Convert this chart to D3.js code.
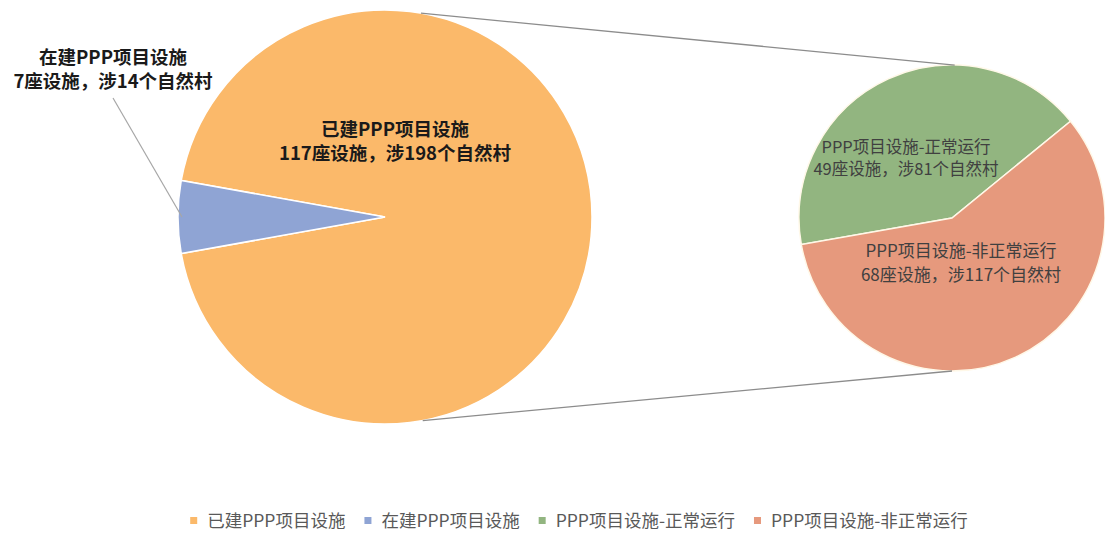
<!DOCTYPE html>
<html><head><meta charset="utf-8">
<script src="https://cdn.jsdelivr.net/npm/d3@7"></script>
<style>
html,body{margin:0;padding:0;background:#fff;}
text{font-family:"Noto Sans CJK SC","Noto Sans",sans-serif;}
</style></head>
<body><svg id="c" width="1105" height="534"></svg>
<script>
// ---- data ----
const mainCategories = ["已建PPP项目设施", "在建PPP项目设施"];
const mainValues = [117, 7];
const mainVillages = [198, 14];
const subCategories = ["PPP项目设施-正常运行", "PPP项目设施-非正常运行"];
const subValues = [49, 68];
const subVillages = [81, 117];
const legendLabels = ["已建PPP项目设施", "在建PPP项目设施", "PPP项目设施-正常运行", "PPP项目设施-非正常运行"];
const colors = ["#FBB96A", "#8FA4D4", "#92B580", "#E6997D"];

const svg = d3.select("#c");
const deg = Math.PI / 180;

// ---- main pie ----
const mainC = {x: 385, y: 217, r: 207};
const total = d3.sum(mainValues);
const blueSpan = mainValues[1] / total * 2 * Math.PI;
const mainStart = 270 * deg + blueSpan / 2 - 2 * Math.PI;
const mainPie = d3.pie().sort(null).startAngle(mainStart).endAngle(mainStart + 2 * Math.PI)(mainValues);
const mainArc = d3.arc().innerRadius(0).outerRadius(mainC.r);
const gMain = svg.append("g").attr("transform", `translate(${mainC.x},${mainC.y})`);
gMain.selectAll("path").data(mainPie).join("path")
  .attr("d", mainArc).attr("fill", (d, i) => colors[i])
  .attr("stroke", "#fff").attr("stroke-width", 1.5);

// ---- secondary pie ----
const subC = {x: 952, y: 218, r: 153};
const subStart = -100 * deg;
const subPie = d3.pie().sort(null).startAngle(subStart).endAngle(subStart + 2 * Math.PI)(subValues);
const subArc = d3.arc().innerRadius(0).outerRadius(subC.r);
const gSub = svg.append("g").attr("transform", `translate(${subC.x},${subC.y})`);
gSub.selectAll("path").data(subPie).join("path")
  .attr("d", subArc).attr("fill", (d, i) => colors[i + 2])
  .attr("stroke", "#FFF8E8").attr("stroke-width", 1.5);

// ---- connector lines ----
function pt(c, a, r) { return [c.x + r * Math.sin(a), c.y - r * Math.cos(a)]; }
const conn = [[pt(mainC, 10 * deg, mainC.r), pt(subC, 1 * deg, subC.r)],
              [pt(mainC, 169.5 * deg, mainC.r), pt(subC, 180 * deg, subC.r)]];
svg.selectAll("line.conn").data(conn).join("line").attr("class", "conn")
  .attr("x1", d => d[0][0]).attr("y1", d => d[0][1])
  .attr("x2", d => d[1][0]).attr("y2", d => d[1][1])
  .attr("stroke", "#8C8C8C").attr("stroke-width", 1.3);

// ---- labels ----
function twoLine(x, y, l1, l2, opts) {
  const t = svg.append("text").attr("x", x).attr("y", y)
    .attr("text-anchor", "middle").attr("font-size", opts.size)
    .attr("font-weight", opts.weight).attr("fill", opts.fill);
  t.append("tspan").attr("x", x).attr("dy", 0).text(l1);
  t.append("tspan").attr("x", x).attr("dy", opts.lh).text(l2);
  return t;
}
// leader line for 在建
const blueMid = (mainPie[1].startAngle + mainPie[1].endAngle) / 2;
const bp = pt(mainC, blueMid, mainC.r - 4);
svg.append("line").attr("x1", 113).attr("y1", 98).attr("x2", bp[0]).attr("y2", bp[1])
  .attr("stroke", "#A6A6A6").attr("stroke-width", 1.2);

twoLine(113, 64, mainCategories[1], `${mainValues[1]}座设施，涉${mainVillages[1]}个自然村`,
  {size: 18.5, weight: "bold", fill: "#1a1a1a", lh: 24});
twoLine(395, 136, mainCategories[0], `${mainValues[0]}座设施，涉${mainVillages[0]}个自然村`,
  {size: 18.5, weight: "bold", fill: "#1a1a1a", lh: 24});
twoLine(906, 153, subCategories[0], `${subValues[0]}座设施，涉${subVillages[0]}个自然村`,
  {size: 16.5, weight: "normal", fill: "#404040", lh: 22});
twoLine(961, 257, subCategories[1], `${subValues[1]}座设施，涉${subVillages[1]}个自然村`,
  {size: 17, weight: "normal", fill: "#404040", lh: 24});

// ---- legend ----
const lg = svg.append("g");
let lx = 0;
const gap = 19;
legendLabels.forEach((name, i) => {
  const g = lg.append("g").attr("transform", `translate(${lx},0)`);
  g.append("rect").attr("x", 0).attr("y", -4).attr("width", 7).attr("height", 7).attr("fill", colors[i]);
  const t = g.append("text").attr("x", 17).attr("y", 6).attr("font-size", 17.5).attr("fill", "#595959").text(name);
  lx += 17 + t.node().getComputedTextLength() + gap;
});
const lw = lx - gap;
lg.attr("transform", `translate(${579 - lw / 2},521)`);
</script></body></html>
